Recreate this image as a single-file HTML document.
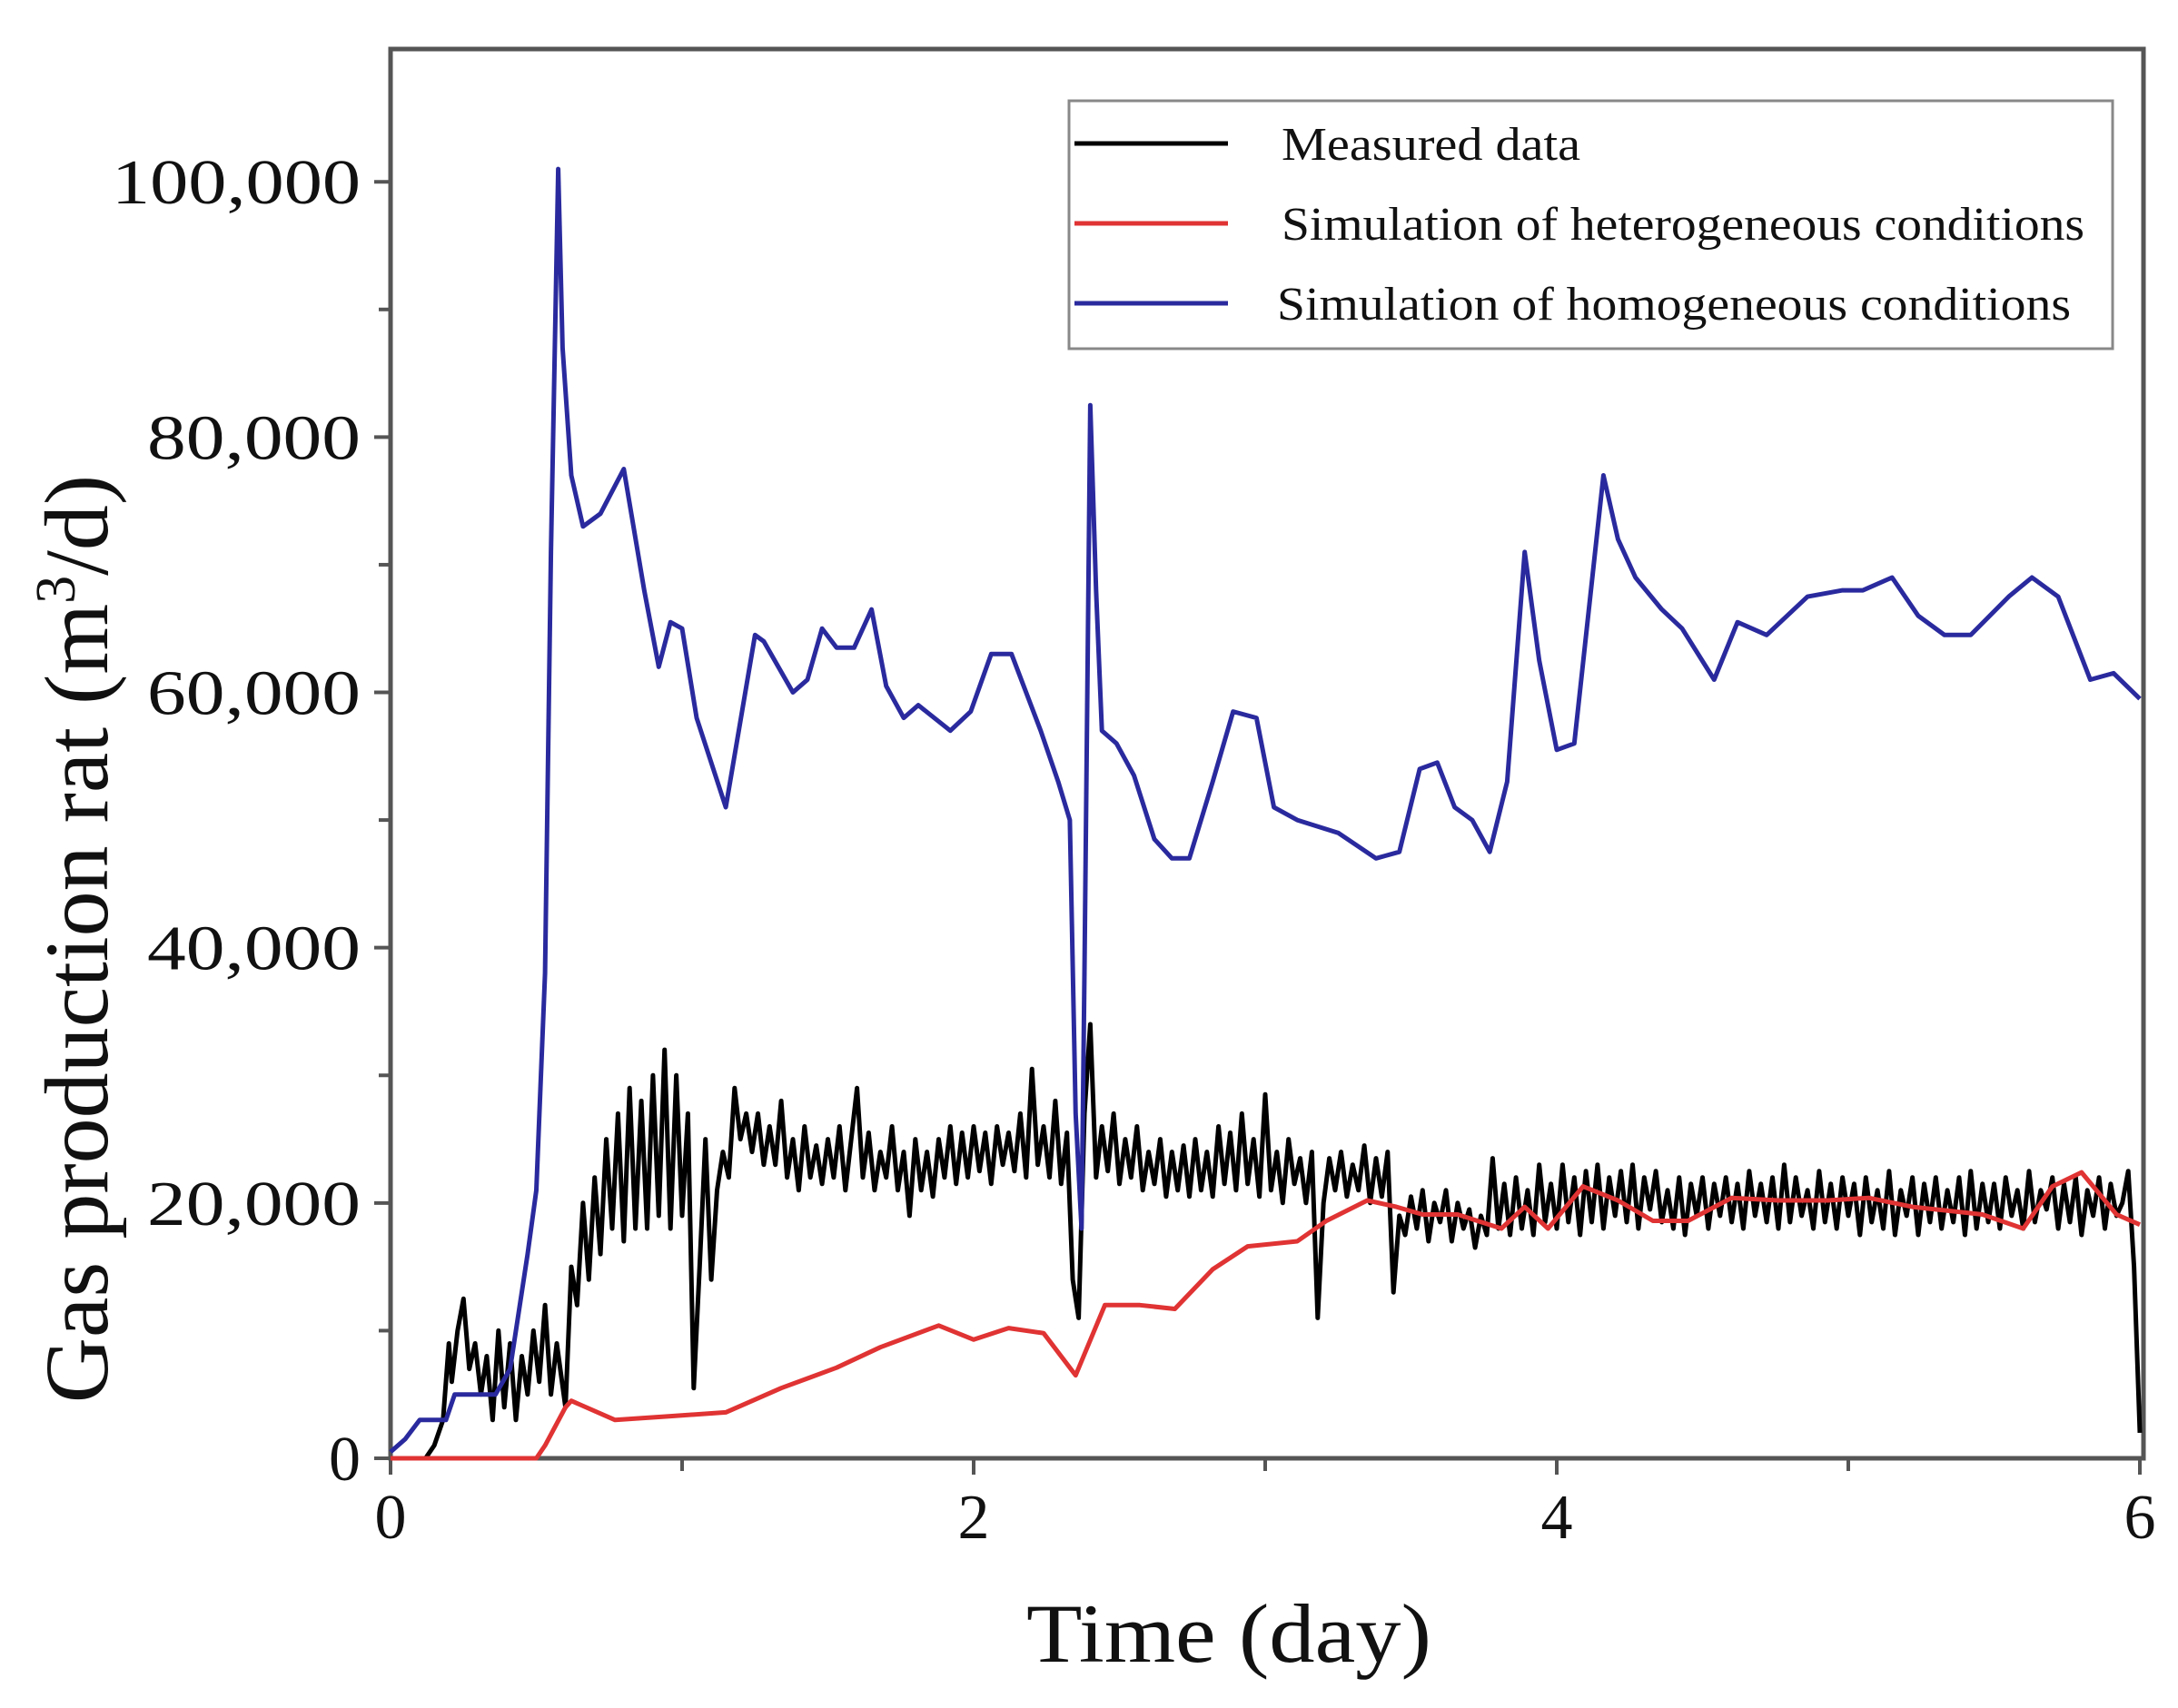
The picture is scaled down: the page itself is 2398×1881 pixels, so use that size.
<!DOCTYPE html>
<html><head><meta charset="utf-8"><style>
html,body{margin:0;padding:0;background:#fff;}
svg{display:block;}
text{font-family:"Liberation Serif",serif;fill:#111;}
</style></head><body>
<svg id="chart" width="2398" height="1881" viewBox="0 0 2398 1881" xmlns="http://www.w3.org/2000/svg">
<g id="axes"></g>
<g id="series"></g>
<g id="legend">
<rect x="1177" y="111" width="1149" height="273" fill="#fff" stroke="#888" stroke-width="3"/>
<line x1="1183" y1="158" x2="1352" y2="158" stroke="#000" stroke-width="5"/>
<text x="1411" y="176" font-size="52" textLength="329" lengthAdjust="spacingAndGlyphs">Measured data</text>
<line x1="1183" y1="246" x2="1352" y2="246" stroke="#e03333" stroke-width="5"/>
<text x="1411" y="264" font-size="52" textLength="884" lengthAdjust="spacingAndGlyphs">Simulation of heterogeneous conditions</text>
<line x1="1183" y1="334" x2="1352" y2="334" stroke="#2a2a9e" stroke-width="5"/>
<text x="1406" y="352" font-size="52" textLength="874" lengthAdjust="spacingAndGlyphs">Simulation of homogeneous conditions</text>
</g>
<text x="1353" y="1830" font-size="92" text-anchor="middle" textLength="446" lengthAdjust="spacingAndGlyphs">Time  (day)</text>
<text transform="translate(118,1034) rotate(-90)" font-size="100" text-anchor="middle">Gas production rat  (m<tspan font-size="62" dy="-36">3</tspan><tspan dy="36">/d)</tspan></text>
</svg>
<script>
const xTicks=[0,2,4,6];
const xMinorTicks=[1,3,5];
const yTicks=[0,20000,40000,60000,80000,100000];
const yTickLabels=["0","20,000","40,000","60,000","80,000","100,000"];
const yMinorTicks=[10000,30000,50000,70000,90000];
const homoDays=[0,0.05,0.1,0.19,0.22,0.36,0.41,0.47,0.5,0.53,0.55,0.575,0.59,0.62,0.66,0.72,0.8,0.87,0.92,0.96,1.0,1.05,1.15,1.25,1.28,1.38,1.43,1.48,1.53,1.59,1.65,1.7,1.76,1.81,1.92,1.99,2.06,2.13,2.23,2.29,2.33,2.35,2.37,2.38,2.4,2.42,2.44,2.49,2.55,2.62,2.68,2.74,2.82,2.89,2.97,3.03,3.11,3.25,3.38,3.46,3.53,3.59,3.65,3.71,3.77,3.83,3.89,3.94,4.0,4.06,4.16,4.21,4.27,4.36,4.43,4.54,4.62,4.72,4.86,4.98,5.05,5.15,5.24,5.33,5.42,5.55,5.63,5.72,5.83,5.91,6.0];
const homoValues=[500,1500,3000,3000,5000,5000,7000,16000,21000,38000,71000,101000,87000,77000,73000,74000,77500,68000,62000,65500,65000,58000,51000,64500,64000,60000,61000,65000,63500,63500,66500,60500,58000,59000,57000,58500,63000,63000,57000,53000,50000,27000,18000,38000,82500,68000,57000,56000,53500,48500,47000,47000,53000,58500,58000,51000,50000,49000,47000,47500,54000,54500,51000,50000,47500,53000,71000,62500,55500,56000,77000,72000,69000,66500,65000,61000,65500,64500,67500,68000,68000,69000,66000,64500,64500,67500,69000,67500,61000,61500,59500];
const heteroDays=[0,0.5,0.53,0.6,0.62,0.77,0.96,1.15,1.34,1.53,1.68,1.88,2.0,2.12,2.24,2.35,2.45,2.57,2.69,2.82,2.94,3.11,3.21,3.35,3.45,3.54,3.66,3.81,3.89,3.97,4.09,4.21,4.33,4.45,4.6,4.76,4.93,5.07,5.22,5.46,5.6,5.7,5.8,5.92,6.0];
const heteroValues=[0,0,1000,4000,4500,3000,3300,3600,5500,7100,8700,10400,9300,10200,9800,6500,12000,12000,11700,14800,16600,17000,18600,20200,19700,19100,19100,18000,19700,18000,21300,20200,18600,18600,20400,20200,20200,20400,19700,19100,18000,21300,22400,19100,18300];
const measuredDaysHead=[0,0.12,0.15,0.18,0.2,0.21,0.23,0.25,0.27,0.29,0.31,0.33,0.35,0.37,0.39,0.41,0.43,0.45,0.47,0.49,0.51,0.53,0.55,0.57,0.6];
const measuredValues=[0,0,1000,3000,9000,6000,10000,12500,7000,9000,5000,8000,3000,10000,4000,9000,3000,8000,5000,10000,6000,12000,5000,9000,4000,15000,12000,20000,14000,22000,16000,25000,18000,27000,17000,29000,18000,28000,18000,30000,19000,32000,18000,30000,19000,27000,5500,15000,25000,14000,21000,24000,22000,29000,25000,27000,24000,27000,23000,26000,23000,28000,22000,25000,21000,26000,22000,24500,21500,25000,22000,26000,21000,25000,29000,22000,25500,21000,24000,22000,26000,21000,24000,19000,25000,21000,24000,20500,25000,22000,26000,21500,25500,22000,26000,22500,25500,21500,26000,23000,25500,22500,27000,22000,30500,23000,26000,22000,28000,21500,25500,14000,11000,27000,34000,22000,26000,22500,27000,21500,25000,22000,26000,21000,24000,21500,25000,20500,24000,21000,24500,20500,25000,21000,24000,20500,26000,21500,25500,21000,27000,21500,25000,20500,28500,21000,24000,20000,25000,21500,23500,20000,24000,11000,20000,23500,21000,24000,20500,23000,21000,24500,20000,23500,20500,24000,13000,19000,17500,20500,18000,21000,17000,20000,18500,21000,17000,20000,18000,19500,16500,19000,17500,23500,18000,21500,17500,22000,18000,21000,17500,23000,18500,21500,18000,23000,18500,22000,17500,22500,18500,23000,18000,22000,19000,22500,18500,23000,18000,22000,19500,22500,18500,21000,18000,22000,17500,21500,19000,22000,18000,21500,19000,22000,18500,21500,18000,22500,19000,21500,18500,22000,18000,23000,18500,22000,19000,21000,18000,22500,18500,21500,18000,22000,19000,21500,17500,22000,18500,21000,18000,22500,17500,21000,19000,22000,17500,21500,18500,22000,18000,21000,18500,22000,17500,22500,18000,21500,18500,21500,18000,22000,19000,21000,18000,22500,18500,21000,19500,22000,18000,21500,18500,22000,17500,21000,19000,22000,18000,21500,19000,20000,22500,15000,2000];
// grid of measurement times after the first irregular samples (0.02-day sampling to day 6)
const measuredDays=measuredDaysHead.concat(measuredValues.slice(measuredDaysHead.length).map(function(_,i,a){return 0.6+(6-0.6)*(i+1)/a.length;}));

const svgNS="http://www.w3.org/2000/svg";
const X0=430,X1=2356,Y0=1606,Y1=54,YMAX=110400;
function sx(d){return X0+(X1-X0)*d/6;}
function sy(v){return Y0-(Y0-Y1)*v/YMAX;}
function mk(tag,attrs,parent){const e=document.createElementNS(svgNS,tag);for(const k in attrs)e.setAttribute(k,attrs[k]);parent.appendChild(e);return e;}
const axes=document.getElementById('axes');
const series=document.getElementById('series');
let e;
e=mk('rect',{x:X0,y:Y1,width:2360-X0,height:Y0-Y1,fill:'none',stroke:'#555','stroke-width':5},axes);


xTicks.forEach(function(d){
  let t=mk('line',{x1:sx(d),y1:Y0,x2:sx(d),y2:Y0+18,stroke:'#555','stroke-width':4},axes);
  
  
  let l=mk('text',{x:sx(d),y:Y0+88,'font-size':70,'text-anchor':'middle'},axes);
  l.textContent=String(d);
  
  
});
xMinorTicks.forEach(function(d){
  let t=mk('line',{x1:sx(d),y1:Y0,x2:sx(d),y2:Y0+14,stroke:'#555','stroke-width':4},axes);
  
  
});
yTicks.forEach(function(v,i){
  let t=mk('line',{x1:X0-18,y1:sy(v),x2:X0,y2:sy(v),stroke:'#555','stroke-width':4},axes);
  
  
  let lab=yTickLabels[i];
  let attrs={x:397,y:sy(v)+24,'font-size':70,'text-anchor':'end'};
  if(lab.length>1){attrs.textLength=lab.length===7?274:235;attrs.lengthAdjust='spacingAndGlyphs';}
  let l=mk('text',attrs,axes);
  l.textContent=lab;
  
  
});
yMinorTicks.forEach(function(v){
  let t=mk('line',{x1:X0-13,y1:sy(v),x2:X0,y2:sy(v),stroke:'#555','stroke-width':4},axes);
  
  
});
function pts(ds,vs){return ds.map(function(d,i){return sx(d).toFixed(1)+','+sy(vs[i]).toFixed(1);}).join(' ');}
let p1=mk('polyline',{points:pts(measuredDays,measuredValues),fill:'none',stroke:'#000','stroke-width':5,'stroke-linejoin':'round'},series);


let p2=mk('polyline',{points:pts(heteroDays,heteroValues),fill:'none',stroke:'#e03333','stroke-width':5,'stroke-linejoin':'round'},series);


let p3=mk('polyline',{points:pts(homoDays,homoValues),fill:'none',stroke:'#2a2a9e','stroke-width':5,'stroke-linejoin':'round'},series);


</script>
</body></html>
